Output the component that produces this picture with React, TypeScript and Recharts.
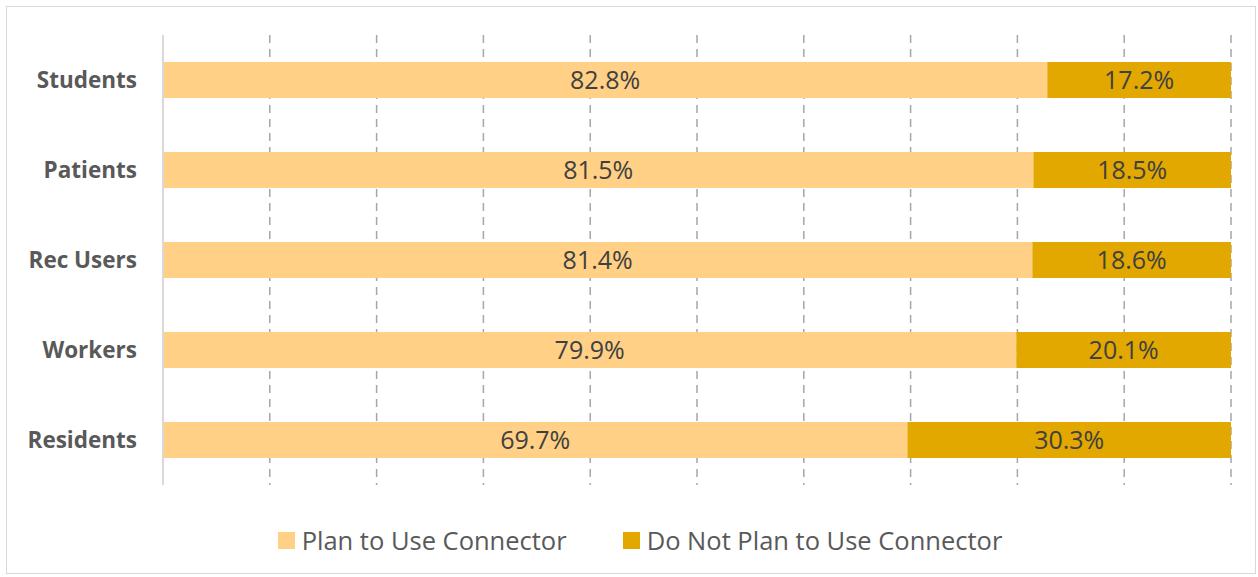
import { BarChart, Bar, XAxis, YAxis, CartesianGrid, LabelList } from 'recharts';

const categories = ['Students', 'Patients', 'Rec Users', 'Workers', 'Residents'];
const planToUse = [82.8, 81.5, 81.4, 79.9, 69.7];
const notPlanToUse = [17.2, 18.5, 18.6, 20.1, 30.3];
const xTicks = [0, 10, 20, 30, 40, 50, 60, 70, 80, 90, 100];

const PLAN_COLOR = '#FFD085';
const NOT_PLAN_COLOR = '#E2A800';
const FONT = '"Open Sans", sans-serif';

const data = categories.map((name, i) => ({
  name,
  plan: planToUse[i],
  notPlan: notPlanToUse[i],
}));

const legendItems = [
  { label: 'Plan to Use Connector', color: PLAN_COLOR },
  { label: 'Do Not Plan to Use Connector', color: NOT_PLAN_COLOR },
];

const fmt = (v: number) => `${v.toFixed(1)}%`;

export default function App() {
  return (
    <div style={{ position: 'absolute', left: 0, top: 0, width: 1258, height: 577, background: '#fff', fontFamily: FONT }}>
      <div
        style={{
          position: 'absolute',
          left: 6,
          top: 6,
          width: 1250,
          height: 568,
          border: '1px solid #d9d9d9',
          boxSizing: 'border-box',
        }}
      />
      <BarChart
        width={1258}
        height={577}
        data={data}
        layout="vertical"
        margin={{ top: 35, right: 27, bottom: 92, left: 0 }}
        barSize={36}
        style={{ position: 'absolute', left: 0, top: 0 }}
      >
        <CartesianGrid horizontal={false} stroke="#a6a6a6" strokeDasharray="8 6" strokeWidth={1.5} />
        <XAxis type="number" domain={[0, 100]} ticks={xTicks} hide />
        <YAxis
          type="category"
          dataKey="name"
          width={163}
          axisLine={{ stroke: '#d9d9d9', strokeWidth: 2 }}
          tickLine={false}
          tickSize={0}
          tickMargin={26}
          tick={{ fill: '#595959', fontSize: 22.5, fontWeight: 700, fontFamily: FONT }}
        />
        <Bar dataKey="plan" stackId="a" fill={PLAN_COLOR} isAnimationActive={false}>
          <LabelList dataKey="plan" position="center" formatter={fmt} fill="#404040" fontSize={25} fontFamily={FONT} />
        </Bar>
        <Bar dataKey="notPlan" stackId="a" fill={NOT_PLAN_COLOR} isAnimationActive={false}>
          <LabelList dataKey="notPlan" position="center" formatter={fmt} fill="#404040" fontSize={25} fontFamily={FONT} />
        </Bar>
      </BarChart>
      <div
        style={{
          position: 'absolute',
          left: 0,
          top: 523,
          width: 1280,
          display: 'flex',
          justifyContent: 'center',
          gap: 56,
          fontSize: 25.5,
          color: '#595959',
          lineHeight: '34px',
        }}
      >
        {legendItems.map((it) => (
          <div key={it.label} style={{ display: 'flex', alignItems: 'center', gap: 7 }}>
            <span style={{ width: 17, height: 17, background: it.color, display: 'inline-block' }} />
            <span>{it.label}</span>
          </div>
        ))}
      </div>
    </div>
  );
}
